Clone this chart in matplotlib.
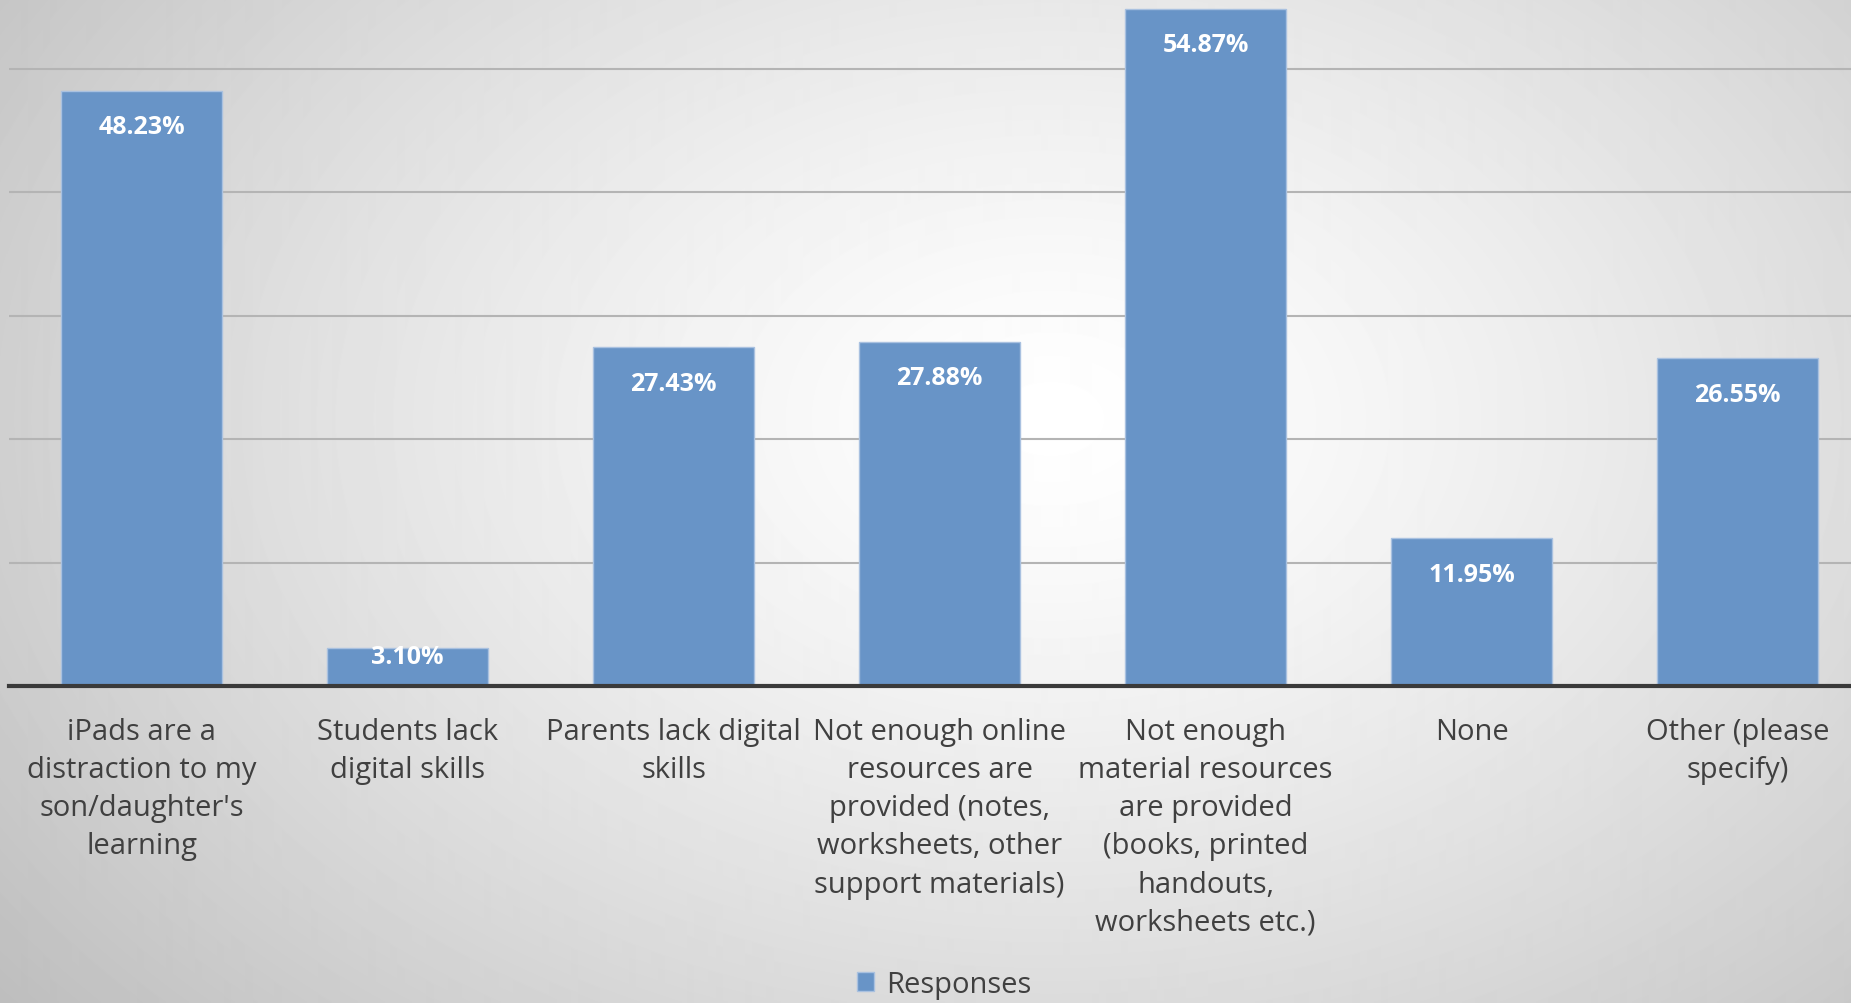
import numpy as np
import matplotlib
matplotlib.use('Agg')
import matplotlib.pyplot as plt

categories = [
    "iPads are a\ndistraction to my\nson/daughter's\nlearning",
    "Students lack\ndigital skills",
    "Parents lack digital\nskills",
    "Not enough online\nresources are\nprovided (notes,\nworksheets, other\nsupport materials)",
    "Not enough\nmaterial resources\nare provided\n(books, printed\nhandouts,\nworksheets etc.)",
    "None",
    "Other (please\nspecify)",
]
responses = [48.23, 3.10, 27.43, 27.88, 54.87, 11.95, 26.55]
value_labels = ["48.23%", "3.10%", "27.43%", "27.88%", "54.87%", "11.95%", "26.55%"]

plt.rcParams['font.family'] = ['Open Sans', 'DejaVu Sans']
bar_color = '#6894c7'
text_color = '#404040'

fig = plt.figure(figsize=(18.51, 10.04), dpi=100)

# radial grey-to-white background
bg = fig.add_axes([0, 0, 1, 1], zorder=-10)
yy, xx = np.mgrid[0:1004, 0:1851]
cx, cy = 1050, 420
r = np.sqrt(((xx - cx) / 1150.0) ** 2 + ((yy - cy) / 800.0) ** 2)
shade = 1.0 - 0.21 * np.clip(r, 0, 1.2) ** 1.3
bg.imshow(shade, cmap='gray', vmin=0, vmax=1, aspect='auto', interpolation='bilinear')
bg.axis('off')

# axes run a little past the right edge, as in the cropped original
ax = fig.add_axes([8.6 / 1851, 1 - 687 / 1004, 1862 / 1851, 687 / 1004])
ax.patch.set_alpha(0)
x = np.arange(len(categories))
bars = ax.bar(x, responses, width=0.604, color=bar_color, edgecolor='#a9c1e0',
              linewidth=1.0, zorder=3, label='Responses')
ax.set_xlim(-0.5, len(categories) - 0.5)
ax.set_ylim(0, 55.65)
ax.set_yticks([10, 20, 30, 40, 50])
ax.yaxis.grid(True, color='#b4b4b4', linewidth=1.5, zorder=0)
ax.tick_params(axis='y', left=False, labelleft=False)
ax.tick_params(axis='x', bottom=False, pad=18.5)
ax.set_xticks(x)
ax.set_xticklabels(categories, fontsize=21, color=text_color, linespacing=1.42, va='top')
for s in ['top', 'right', 'left']:
    ax.spines[s].set_visible(False)
ax.spines['bottom'].set_color('#3a3a3a')
ax.spines['bottom'].set_linewidth(3)
ax.spines['bottom'].set_zorder(4)

for b, lab in zip(bars, value_labels):
    off = -26 if b.get_height() > 10 else -6
    ax.annotate(lab, (b.get_x() + b.get_width() / 2, b.get_height()),
                xytext=(0, off), textcoords='offset points', ha='center', va='center',
                fontsize=18, fontweight='bold', color='white', zorder=5)

fig.legend(handles=[bars], labels=['Responses'], loc='lower center',
           bbox_to_anchor=(0.51, -0.022), frameon=False, fontsize=21,
           handlelength=0.6, handleheight=0.6, handletextpad=0.4,
           labelcolor=text_color)

fig.savefig('out.png', dpi=100)
